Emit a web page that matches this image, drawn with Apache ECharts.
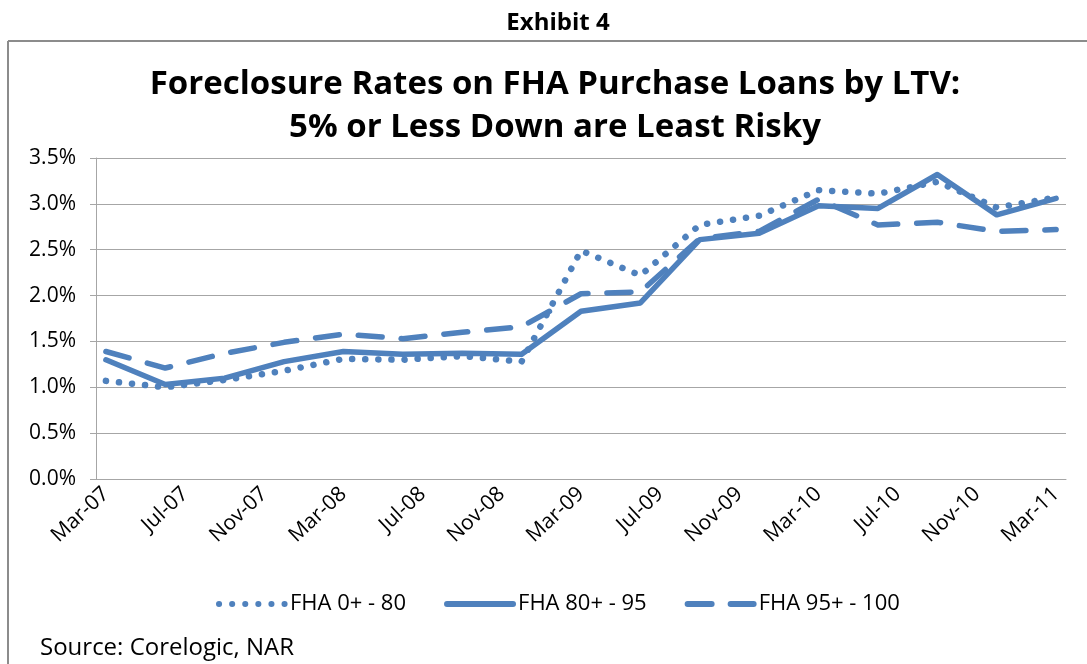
<!DOCTYPE html>
<html>
<head>
<meta charset="utf-8">
<title>Exhibit 4</title>
<script src="https://cdn.jsdelivr.net/npm/echarts@6/dist/echarts.min.js"></script>
<style>
  html, body { margin: 0; padding: 0; background: #fff; }
  #chart { width: 1087px; height: 664px; }
</style>
</head>
<body>
<div id="chart"></div>
<script>
// quarterly observations, plotted on a monthly axis
const quarters = ["Mar-07", "Jun-07", "Sep-07", "Dec-07", "Mar-08", "Jun-08", "Sep-08", "Dec-08",
  "Mar-09", "Jun-09", "Sep-09", "Dec-09", "Mar-10", "Jun-10", "Sep-10", "Dec-10", "Mar-11"];
const fha0to80 = [1.07, 1.00, 1.08, 1.18, 1.31, 1.30, 1.34, 1.28, 2.49, 2.22, 2.77, 2.87, 3.15, 3.11, 3.24, 2.96, 3.07];
const fha80to95 = [1.30, 1.03, 1.10, 1.28, 1.39, 1.36, 1.37, 1.36, 1.83, 1.92, 2.61, 2.68, 2.98, 2.95, 3.32, 2.88, 3.06];
const fha95to100 = [1.39, 1.21, 1.37, 1.49, 1.58, 1.53, 1.60, 1.66, 2.02, 2.04, 2.62, 2.70, 3.05, 2.77, 2.80, 2.70, 2.72];
const seriesNames = ["FHA 0+ - 80", "FHA 80+ - 95", "FHA 95+ - 100"];

// month categories Mar-07 .. Mar-11
const monthNames = ["Jan", "Feb", "Mar", "Apr", "May", "Jun", "Jul", "Aug", "Sep", "Oct", "Nov", "Dec"];
const months = [];
for (let y = 7; y <= 11; y++) {
  for (let m = 0; m < 12; m++) {
    if (y === 7 && m < 2) continue;
    if (y === 11 && m > 2) break;
    months.push(monthNames[m] + "-" + String(y).padStart(2, "0"));
  }
}

const blue = "#4F81BD";
const font = "Open Sans";

function pairs(vals) {
  return quarters.map((q, i) => [q, vals[i]]);
}

let myChart = echarts.init(document.getElementById("chart"));

let option = {
  animation: false,
  backgroundColor: "#fff",
  textStyle: { fontFamily: font, color: "#000" },
  title: [
    {
      text: "Exhibit 4",
      left: 553,
      textAlign: "center",
      top: 6,
      textStyle: { fontFamily: font, fontWeight: "bold", fontSize: 24, color: "#000" },
    },
    {
      text: "Foreclosure Rates on FHA Purchase Loans by LTV:\n5% or Less Down are Least Risky",
      left: 550,
      textAlign: "center",
      top: 58,
      textStyle: { fontFamily: font, fontWeight: "bold", fontSize: 33, lineHeight: 43, color: "#000" },
    },
  ],
  legend: {
    left: 211,
    top: 588,
    itemWidth: 66,
    itemHeight: 12,
    itemGap: 38,
    itemStyle: { color: "rgba(0,0,0,0)", borderWidth: 0 },
    lineStyle: { width: 6 },
    textStyle: { fontFamily: font, fontSize: 22, color: "#000" },
    data: seriesNames,
  },
  grid: {
    left: 96,
    right: 21,
    top: 158,
    bottom: 185,
  },
  xAxis: {
    type: "category",
    boundaryGap: true,
    data: months,
    axisLine: { lineStyle: { color: "#a6a6a6", width: 1 } },
    axisTick: { interval: 3, length: 6, lineStyle: { color: "#a6a6a6" } },
    axisLabel: {
      interval: 3,
      rotate: 43,
      margin: 12,
      fontFamily: font,
      fontSize: 21,
      color: "#000",
    },
  },
  yAxis: {
    type: "value",
    min: 0,
    max: 3.5,
    interval: 0.5,
    axisLine: { show: true, lineStyle: { color: "#a6a6a6", width: 1 } },
    axisTick: { show: true, length: 6, lineStyle: { color: "#a6a6a6" } },
    splitLine: { lineStyle: { color: "#a6a6a6", width: 1 } },
    axisLabel: {
      margin: 20,
      fontFamily: font,
      fontSize: 21,
      color: "#000",
      formatter: (v) => v.toFixed(1) + "%",
    },
  },
  series: [
    {
      name: seriesNames[0],
      type: "line",
      symbol: "none",
      data: pairs(fha0to80),
      lineStyle: { color: blue, width: 6.5, type: [0.1, 13], cap: "round", join: "round" },
      itemStyle: { color: blue },
    },
    {
      name: seriesNames[1],
      type: "line",
      symbol: "none",
      data: pairs(fha80to95),
      lineStyle: { color: blue, width: 5.5, type: "solid", cap: "round", join: "round" },
      itemStyle: { color: blue },
    },
    {
      name: seriesNames[2],
      type: "line",
      symbol: "none",
      data: pairs(fha95to100),
      lineStyle: { color: blue, width: 5.5, type: [24, 19], cap: "round", join: "round" },
      itemStyle: { color: blue },
    },
  ],
  graphic: [
    // frame round the chart
    { type: "line", shape: { x1: 8, y1: 41, x2: 1087, y2: 41 }, style: { stroke: "#8c8c8c", lineWidth: 2 } },
    { type: "line", shape: { x1: 8, y1: 41, x2: 8, y2: 664 }, style: { stroke: "#8c8c8c", lineWidth: 2 } },
    {
      type: "text",
      left: 40,
      top: 636,
      style: { text: "Source: Corelogic, NAR", fontFamily: font, fontSize: 24, fill: "#000" },
    },
  ],
};

option && myChart.setOption(option);
</script>
</body>
</html>
